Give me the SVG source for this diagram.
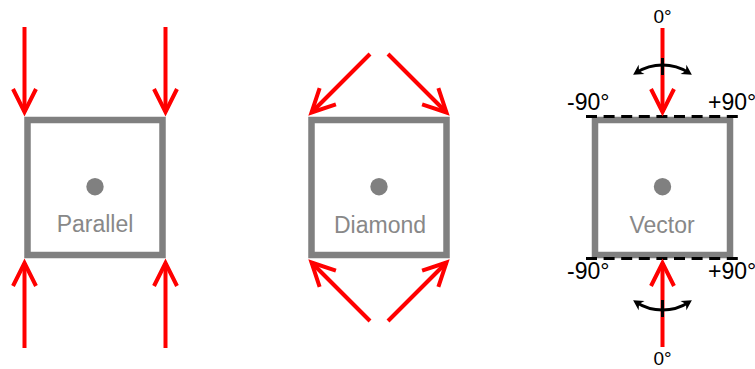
<svg xmlns="http://www.w3.org/2000/svg" width="755" height="369" viewBox="0 0 755 369">
<style>
.box{fill:#fff;stroke:#808080;stroke-width:6.5}
.dot{fill:#808080}
.lbl{font-family:"Liberation Sans",Arial,sans-serif;font-size:23px;fill:#888888;text-anchor:middle}
.ang{font-family:"Liberation Sans",Arial,sans-serif;fill:#000}
.force{fill:none;stroke:#ff0000;stroke-width:4;marker-end:url(#vhead)}
.dash{stroke:#000;stroke-width:3;stroke-dasharray:11 6.6}
.swing{fill:none;stroke:#000;stroke-width:3;marker-start:url(#bhead);marker-end:url(#bhead)}
.tick{stroke:#000;stroke-width:3}
</style>
<defs>
<marker id="vhead" markerUnits="userSpaceOnUse" viewBox="-30 -15 40 30" refX="0" refY="0" markerWidth="40" markerHeight="30" orient="auto" overflow="visible">
<path d="M-23,-11.5 L0,0 L-23,11.5" fill="none" stroke="#ff0000" stroke-width="4" stroke-miterlimit="10"/>
</marker>
<marker id="bhead" markerUnits="userSpaceOnUse" viewBox="-10 -8 16 16" refX="0" refY="0" markerWidth="16" markerHeight="16" orient="auto-start-reverse" overflow="visible">
<path d="M4,0 L-6,-5.5 L-3,0 L-6,5.5 z" fill="#000"/>
</marker>
</defs>
<g id="node-parallel">
<rect class="box" x="27.5" y="120" width="135" height="135"/>
<circle class="dot" cx="95" cy="186.7" r="8.7"/>
<text class="lbl" x="95" y="232">Parallel</text>
</g>
<g id="node-diamond">
<rect class="box" x="311.5" y="120" width="135" height="135"/>
<circle class="dot" cx="379" cy="186.7" r="8.7"/>
<text class="lbl" x="380" y="232.5">Diamond</text>
</g>
<g id="node-vector">
<rect class="box" x="595" y="120" width="135" height="135"/>
<circle class="dot" cx="662.5" cy="186.7" r="8.7"/>
<text class="lbl" x="662" y="232.5">Vector</text>
<line class="dash" x1="586" y1="116.5" x2="739" y2="116.5"/>
<line class="dash" x1="586" y1="258.5" x2="739" y2="258.5"/>
<text class="ang" x="662.5" y="22.5" font-size="19" text-anchor="middle">0°</text>
<text class="ang" x="662.5" y="365" font-size="19" text-anchor="middle">0°</text>
<text class="ang" x="567" y="110" font-size="23">-90°</text>
<text class="ang" x="708" y="110" font-size="23">+90°</text>
<text class="ang" x="567" y="278.5" font-size="23">-90°</text>
<text class="ang" x="708" y="278.5" font-size="23">+90°</text>
</g>
<g id="connectors">
<line class="force" x1="24.5" y1="27" x2="24.5" y2="112"/>
<line class="force" x1="165.5" y1="27" x2="165.5" y2="112"/>
<line class="force" x1="24.5" y1="348" x2="24.5" y2="263"/>
<line class="force" x1="165.5" y1="348" x2="165.5" y2="263"/>
<line class="force" x1="370" y1="54" x2="311.5" y2="112.5"/>
<line class="force" x1="388" y1="54" x2="446.5" y2="112.5"/>
<line class="force" x1="370" y1="321" x2="311.5" y2="262.5"/>
<line class="force" x1="388" y1="321" x2="446.5" y2="262.5"/>
<line class="force" x1="662.5" y1="28" x2="662.5" y2="112"/>
<line class="force" x1="662.5" y1="347" x2="662.5" y2="263"/>
<path class="swing" d="M636.5,72.6 A48.5,48.5 0 0 1 688.5,72.6"/>
<path class="swing" d="M636.5,302.4 A48.5,48.5 0 0 0 688.5,302.4"/>
<line class="tick" x1="662.5" y1="58" x2="662.5" y2="75"/>
<line class="tick" x1="662.5" y1="300" x2="662.5" y2="317"/>
</g>
</svg>
